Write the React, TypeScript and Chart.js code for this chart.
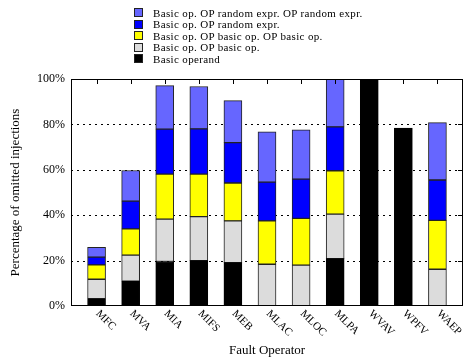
import React, { useEffect, useRef } from "react";
import { Chart, registerables } from "chart.js";
Chart.register(...registerables);

const categories = ["MFC", "MVA", "MIA", "MIFS", "MEB", "MLAC", "MLOC", "MLPA", "WVAV", "WPFV", "WAEP"];
const basicOperand = [3.2, 10.9, 19.6, 20.0, 19.1, 0, 0, 20.9, 100, 78.4, 0];
const basicOpBasicOp = [8.6, 11.5, 18.7, 19.4, 18.4, 18.4, 18.0, 19.6, 0, 0, 16.2];
const basicOpBasicOpBasicOp = [6.3, 11.6, 19.8, 18.7, 16.7, 19.1, 20.6, 19.1, 0, 0, 21.5];
const basicOpRandom = [3.4, 12.2, 19.8, 19.9, 17.8, 17.1, 17.3, 19.3, 0, 0, 17.8];
const basicOpRandomRandom = [4.3, 13.5, 19.2, 18.7, 18.5, 22.1, 21.7, 21.1, 0, 0, 25.3];
const seriesLabels = [
  "Basic operand",
  "Basic op. OP basic op.",
  "Basic op. OP basic op. OP basic op.",
  "Basic op. OP random expr.",
  "Basic op. OP random expr. OP random expr.",
];
const seriesValues = [basicOperand, basicOpBasicOp, basicOpBasicOpBasicOp, basicOpRandom, basicOpRandomRandom];
const seriesColors = ["#000000", "#dcdcdc", "#ffff00", "#0000ff", "#6666ff"];
const yTicks = [0, 20, 40, 60, 80, 100];

const FONT = '"Liberation Serif", serif';

const framePlugin = {
  id: "frame",
  beforeDatasetsDraw(chart: any) {
    const { ctx, chartArea: a, scales } = chart;
    ctx.save();
    ctx.strokeStyle = "#000";
    ctx.lineWidth = 1;
    ctx.setLineDash([2, 4]);
    ctx.beginPath();
    yTicks.slice(1, -1).forEach((v) => {
      const py = Math.round(scales.y.getPixelForValue(v)) + 0.5;
      ctx.moveTo(a.left, py);
      ctx.lineTo(a.right, py);
    });
    ctx.stroke();
    ctx.restore();
  },
  afterDraw(chart: any) {
    const { ctx, chartArea: a, scales } = chart;
    ctx.save();
    ctx.strokeStyle = "#000";
    ctx.lineWidth = 1;
    ctx.strokeRect(Math.round(a.left) + 0.5, Math.round(a.top) + 0.5, Math.round(a.right - a.left) - 1, Math.round(a.bottom - a.top) - 1);
    ctx.beginPath();
    categories.forEach((_, i) => {
      const px = Math.round(scales.x.getPixelForValue(i)) + 0.5;
      ctx.moveTo(px, a.top);
      ctx.lineTo(px, a.top + 5);
    });
    yTicks.slice(1, -1).forEach((v) => {
      const py = Math.round(scales.y.getPixelForValue(v)) + 0.5;
      ctx.moveTo(a.right, py);
      ctx.lineTo(a.right - 5, py);
    });
    ctx.stroke();
    ctx.fillStyle = "#000";
    ctx.font = "11px " + FONT;
    ctx.textAlign = "left";
    ctx.textBaseline = "middle";
    categories.forEach((c, i) => {
      const px = scales.x.getPixelForValue(i);
      ctx.save();
      ctx.translate(px + 1, a.bottom + 6);
      ctx.rotate(Math.PI / 4);
      ctx.fillText(c, 0, 0);
      ctx.restore();
    });
    ctx.restore();
  },
};

export default function App() {
  const ref = useRef<HTMLCanvasElement>(null);
  useEffect(() => {
    if (!ref.current) return;
    const chart = new Chart(ref.current, {
      type: "bar",
      data: {
        datasets: seriesValues.map((vals, s) => ({
          label: seriesLabels[s],
          data: vals.map((v, i) => ({ x: i, y: v === 0 ? null : v })),
          backgroundColor: seriesColors[s],
          borderColor: s === 0 ? "#000" : "#222",
          borderWidth: 1,
          borderSkipped: false,
          barThickness: 18,
        })),
      },
      options: {
        animation: false,
        responsive: true,
        maintainAspectRatio: false,
        layout: { padding: { top: 79, right: 4, left: 0, bottom: 0 } },
        plugins: { legend: { display: false }, tooltip: { enabled: false } },
        scales: {
          x: {
            type: "linear",
            stacked: true,
            offset: false,
            min: -0.75,
            max: 10.75,
            grid: { display: false, offset: false },
            border: { display: false },
            ticks: { display: false },
            afterFit: (s: any) => {
              s.height = 55;
            },
            title: {
              display: true,
              text: "Fault Operator",
              color: "#000",
              font: { family: FONT, size: 13 },
              padding: { top: 0, bottom: 3 },
            },
          },
          y: {
            stacked: true,
            min: 0,
            max: 100,
            grid: { display: false, drawTicks: false },
            border: { display: false },
            afterFit: (s: any) => {
              s.width = 71;
            },
            ticks: {
              stepSize: 20,
              padding: 6,
              color: "#000",
              font: { family: FONT, size: 12 },
              callback: (v: any) => v + "%",
            },
            title: {
              display: true,
              text: "Percentage of omitted injections",
              color: "#000",
              font: { family: FONT, size: 13 },
              padding: { top: 8, bottom: 0 },
            },
          },
        },
      },
      plugins: [framePlugin],
    });
    return () => chart.destroy();
  }, []);

  const order = [4, 3, 2, 1, 0];
  return (
    <div style={{ position: "fixed", left: 0, top: 0, width: 467, height: 361, background: "#fff" }}>
      <canvas ref={ref} />
      <div style={{ position: "absolute", left: 134, top: 7, font: "11px " + FONT, letterSpacing: "0.35px", color: "#000" }}>
        {order.map((s) => (
          <div key={s} style={{ display: "flex", alignItems: "center", height: 11.5, whiteSpace: "nowrap" }}>
            <span
              style={{
                display: "inline-block",
                width: 7,
                height: 7,
                border: "1px solid #222",
                background: seriesColors[s],
                marginRight: 10,
              }}
            />
            <span>{seriesLabels[s]}</span>
          </div>
        ))}
      </div>
    </div>
  );
}
